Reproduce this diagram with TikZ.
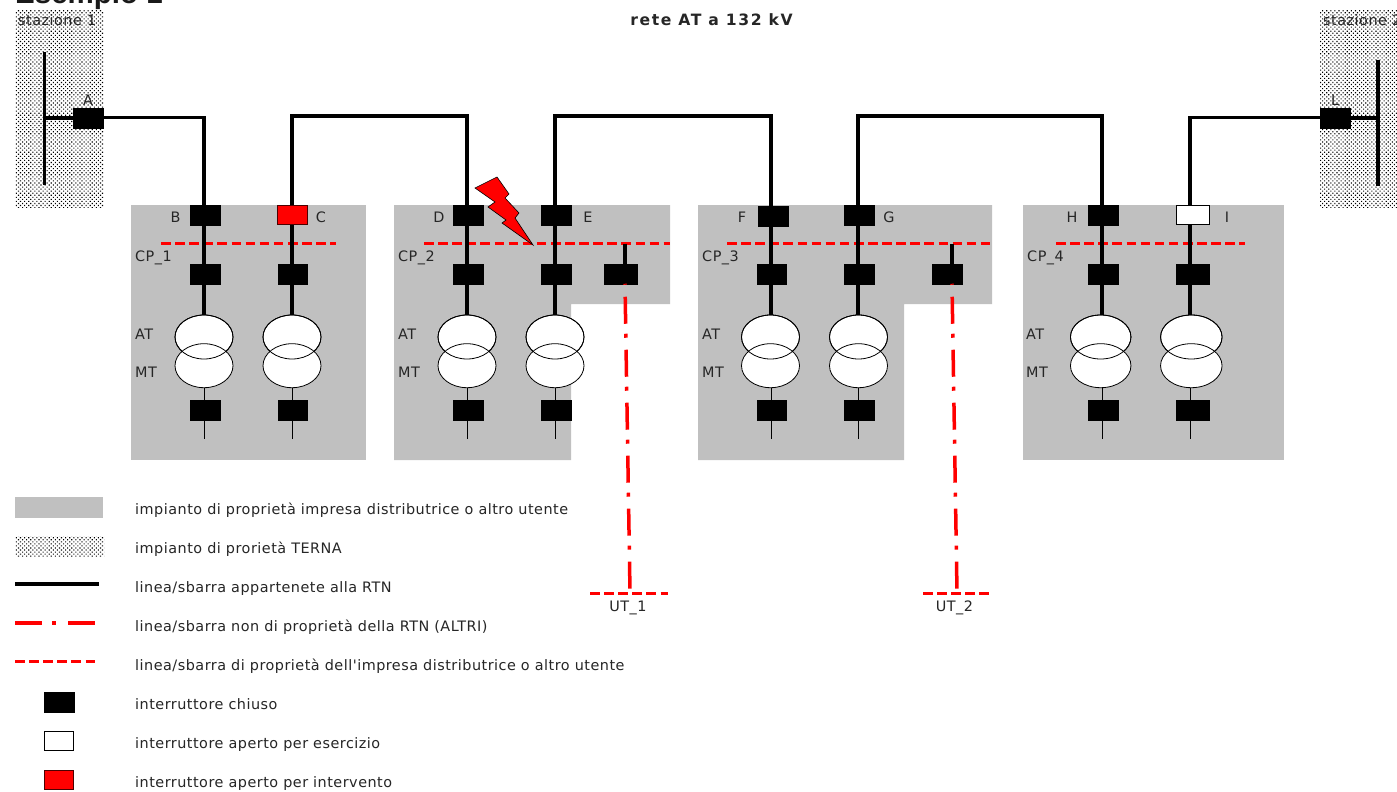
\documentclass[tikz,border=0pt]{standalone}
\usepackage{fontspec}
\setmainfont{DejaVu Sans}
\newfontfamily\arialf{Liberation Sans}
\newfontfamily\labf[LetterSpace=3.4]{DejaVu Sans}
\newfontfamily\ttlf[LetterSpace=10]{DejaVu Sans}
\usetikzlibrary{patterns.meta,shapes.geometric}
\definecolor{impgrey}{HTML}{C0C0C0}
\tikzset{
  x=1pt,y=-1pt,
  greyarea/.style={fill=impgrey,draw=none},
  dotarea/.style={pattern={Dots[distance=2.9pt,angle=45,radius=0.78pt]},pattern color=black,draw=none},
  brk/.style={draw=black,fill=black,line width=0.5pt,minimum width=29.5pt,minimum height=19.5pt,inner sep=0pt,outer sep=0pt},
  brkred/.style={brk,fill=red,draw=black!70!red,line width=1pt},
  brkopen/.style={brk,fill=white,line width=1pt},
  wide/.style={minimum width=33pt},
  plain/.style={},
  rtn/.style={draw=black,line width=3.5pt},
  thinline/.style={draw=black,line width=1pt},
  redash/.style={draw=red,line width=3.5pt,dash pattern=on 9.6pt off 4.5pt},
  redot/.style={draw=red,line width=3.5pt,dash pattern=on 27pt off 10pt on 4pt off 12pt},
  trafo/.style={draw=black,line width=0.8pt,ellipse,minimum height=44pt,inner sep=0pt,outer sep=0pt},
  lab/.style={font=\labf\fontsize{14.4}{16}\selectfont,text=black!85,inner sep=0pt,anchor=base west},
  clab/.style={lab,anchor=base},
  legtxt/.style={lab},
}
% name, x row 2, x row 3, line x, transformer x, breaker style, transformer width
\newcommand{\bay}[7]{%
  \node[brk,#6] (#1m) at (#2,274) {};
  \node[brk,#6] (#1b) at (#3,410) {};
  \coordinate (#1l) at (#4,0);
  \node[trafo,minimum width=#7pt,fill=white] (#1t) at (#5,337) {};
  \node[trafo,minimum width=#7pt,fill=white] (#1u) at (#5,365.7) {};
  \node[trafo,minimum width=#7pt] (#1v) at (#5,337) {};
  \coordinate (#1e) at (#4,439);
  \draw[rtn] (#1.south -| #1l) -- (#1m.north -| #1l);
  \draw[rtn] (#1m.south -| #1l) -- (#1t.north -| #1l);
  \draw[thinline] (#1u.south -| #1l) -- (#1b.north -| #1l);
  \draw[thinline] (#1b.south -| #1l) -- (#1e);
}
\begin{document}
\begin{tikzpicture}
\useasboundingbox (0,0) rectangle (1397,792);
\fill[white] (0,0) rectangle (1397,792);
% areas
\path[dotarea] (15,11) rectangle (103,207);
\path[dotarea] (1320,11) rectangle (1397,207);
\path[greyarea] (131,205) rectangle (366,460);
\path[greyarea] (394,205) -- (670,205) -- (670,304) -- (571,304) -- (571,460) -- (394,460) -- cycle;
\path[greyarea] (698,205) -- (992,205) -- (992,304) -- (904,304) -- (904,460) -- (698,460) -- cycle;
\path[greyarea] (1023,205) rectangle (1284,460);
% titles
\node[inner sep=0pt,anchor=base west,font=\arialf\bfseries\fontsize{29.5}{32}\selectfont,text=black!90] (ttl) at (15,3.5) {Esempio 1};
\node[clab,font=\ttlf\bfseries\fontsize{15.6}{17}\selectfont] (net) at (711.5,25.5) {rete AT a 132 kV};
\node[lab] (st1) at (18,26) {stazione 1};
\node[lab] (st2) at (1323,26) {stazione 2};
% red bars
\coordinate (c1a) at (161,243.5); \coordinate (c1b) at (336,243.5);
\coordinate (c2a) at (424,243.5); \coordinate (c2b) at (670,243.5);
\coordinate (c3a) at (727,243.5); \coordinate (c3b) at (990,243.5);
\coordinate (c4a) at (1056,243.5); \coordinate (c4b) at (1245,243.5);
\draw[redash] (c1a) -- (c1b);
\draw[redash] (c2a) -- (c2b);
\draw[redash] (c3a) -- (c3b);
\draw[redash] (c4a) -- (c4b);
% top breakers
\node[brk] (A) at (88,118) {};
\node[brk] (L) at (1335,118) {};
\node[brk] (B) at (205,215) {};
\node[brkred] (C) at (292.5,215) {};
\node[brk] (D) at (468,215) {};
\node[brk] (E) at (556,215) {};
\node[brk] (F) at (773,216) {};
\node[brk] (G) at (859,215) {};
\node[brk] (H) at (1103,215) {};
\node[brkopen,wide] (I) at (1192.5,215) {};
% bays
\bay{B}{205}{205}{204}{204}{plain}{58}
\bay{C}{292.5}{292.5}{292}{292}{plain}{58}
\bay{D}{468}{468}{467}{467}{plain}{58}
\bay{E}{556}{556}{555}{555}{plain}{58}
\bay{F}{771.5}{771.5}{771}{770.5}{plain}{58}
\bay{G}{859}{859}{858}{858.5}{plain}{58}
\bay{H}{1103}{1103}{1102}{1100.7}{plain}{60.5}
\bay{I}{1192.5}{1192.5}{1190}{1191.3}{wide}{61.5}
% station bars
\coordinate (b1a) at (44.5,52); \coordinate (b1b) at (44.5,185);
\coordinate (b2a) at (1378,60); \coordinate (b2b) at (1378,186);
\coordinate (t1) at (0,116); \coordinate (t2) at (0,117.5);
\draw[rtn] (b1a) -- (b1b);
\draw[rtn] (b2a) -- (b2b);
\draw[rtn] (b1a |- A) -- (A.west);
\draw[rtn] (L.east) -- (b2a |- L);
% lines
\draw[rtn] (A.east |- t2) -| (B.north -| Bl);
\draw[rtn] (C.north -| Cl) |- (t1 -| Dl) -- (D.north -| Dl);
\draw[rtn] (E.north -| El) |- (t1 -| Fl) -- (F.north -| Fl);
\draw[rtn] (G.north -| Gl) |- (t1 -| Hl) -- (H.north -| Hl);
\draw[rtn] (I.north -| Il) |- (L.west |- t2);
% extra utility breakers
\node[brk,wide] (X1) at (621,274) {};
\node[brk] (X2) at (947,274) {};
\coordinate (X1l) at (625,243.5);
\coordinate (X2l) at (952,243.5);
\draw[rtn] (X1l) -- (X1.north -| X1l);
\draw[rtn] (X2l) -- (X2.north -| X2l);
\coordinate (U1) at (630,592); \coordinate (U2) at (957,592);
\coordinate (U1a) at (590,593.5); \coordinate (U1b) at (668,593.5);
\coordinate (U2a) at (923,593.5); \coordinate (U2b) at (991,593.5);
\draw[redot,dash phase=40pt] (X1.south -| X1l) -- (U1);
\draw[redot,dash phase=40pt] (X2.south -| X2l) -- (U2);
\draw[redash] (U1a) -- (U1b);
\draw[redash] (U2a) -- (U2b);
\node[clab] (ut1) at (628,611) {UT\_1};
\node[clab] (ut2) at (954.5,611) {UT\_2};
% letters
\node[clab] (lA) at (88,105) {A};
\node[clab] (lL) at (1335,105) {L};
\node[clab] (lB) at (175.5,222) {B};
\node[clab] (lC) at (321,222) {C};
\node[clab] (lD) at (439,222) {D};
\node[clab] (lE) at (588,222) {E};
\node[clab] (lF) at (742,222) {F};
\node[clab] (lG) at (889,222) {G};
\node[clab] (lH) at (1072,222) {H};
\node[clab] (lI) at (1227,222) {I};
\node[lab] (cp1) at (135,261) {CP\_1};
\node[lab] (cp2) at (398,261) {CP\_2};
\node[lab] (cp3) at (702,261) {CP\_3};
\node[lab] (cp4) at (1027,261) {CP\_4};
\node[lab] (at1) at (135,339) {AT};
\node[lab] (mt1) at (135,377) {MT};
\node[lab] (at2) at (398,339) {AT};
\node[lab] (mt2) at (398,377) {MT};
\node[lab] (at3) at (702,339) {AT};
\node[lab] (mt3) at (702,377) {MT};
\node[lab] (at4) at (1026,339) {AT};
\node[lab] (mt4) at (1026,377) {MT};
% fault
\draw[fill=red,draw=black,line width=0.6pt] (497,177) -- (509,194) -- (505,198) -- (519,213) -- (515,218) -- (533,245) -- (502,223) -- (506,220) -- (488,207) -- (495,202) -- (475,188) -- cycle;
% legend
\path[greyarea] (15,497) rectangle (103,518);
\path[dotarea] (15,536) rectangle (104,556);
\coordinate (k1a) at (15,584); \coordinate (k1b) at (99,584);
\coordinate (k2a) at (15,623); \coordinate (k2b) at (97,623);
\coordinate (k3a) at (15,661.5); \coordinate (k3b) at (97,661.5);
\draw[rtn] (k1a) -- (k1b);
\draw[redot] (k2a) -- (k2b);
\draw[redash] (k3a) -- (k3b);
\node[brk] (k4) at (59,702) {};
\node[brkopen] (k5) at (59,741) {};
\node[brkred] (k6) at (59,780) {};
\node[legtxt] (t1x) at (135,514) {impianto di proprietà impresa distributrice o altro utente};
\node[legtxt] (t2x) at (135,553) {impianto di prorietà TERNA};
\node[legtxt] (t3x) at (135,592) {linea/sbarra appartenete alla RTN};
\node[legtxt] (t4x) at (135,631) {linea/sbarra non di proprietà della RTN (ALTRI)};
\node[legtxt] (t5x) at (135,670) {linea/sbarra di proprietà dell'impresa distributrice o altro utente};
\node[legtxt] (t6x) at (135,709) {interruttore chiuso};
\node[legtxt] (t7x) at (135,748) {interruttore aperto per esercizio};
\node[legtxt] (t8x) at (135,787) {interruttore aperto per intervento};
\end{tikzpicture}
\end{document}
